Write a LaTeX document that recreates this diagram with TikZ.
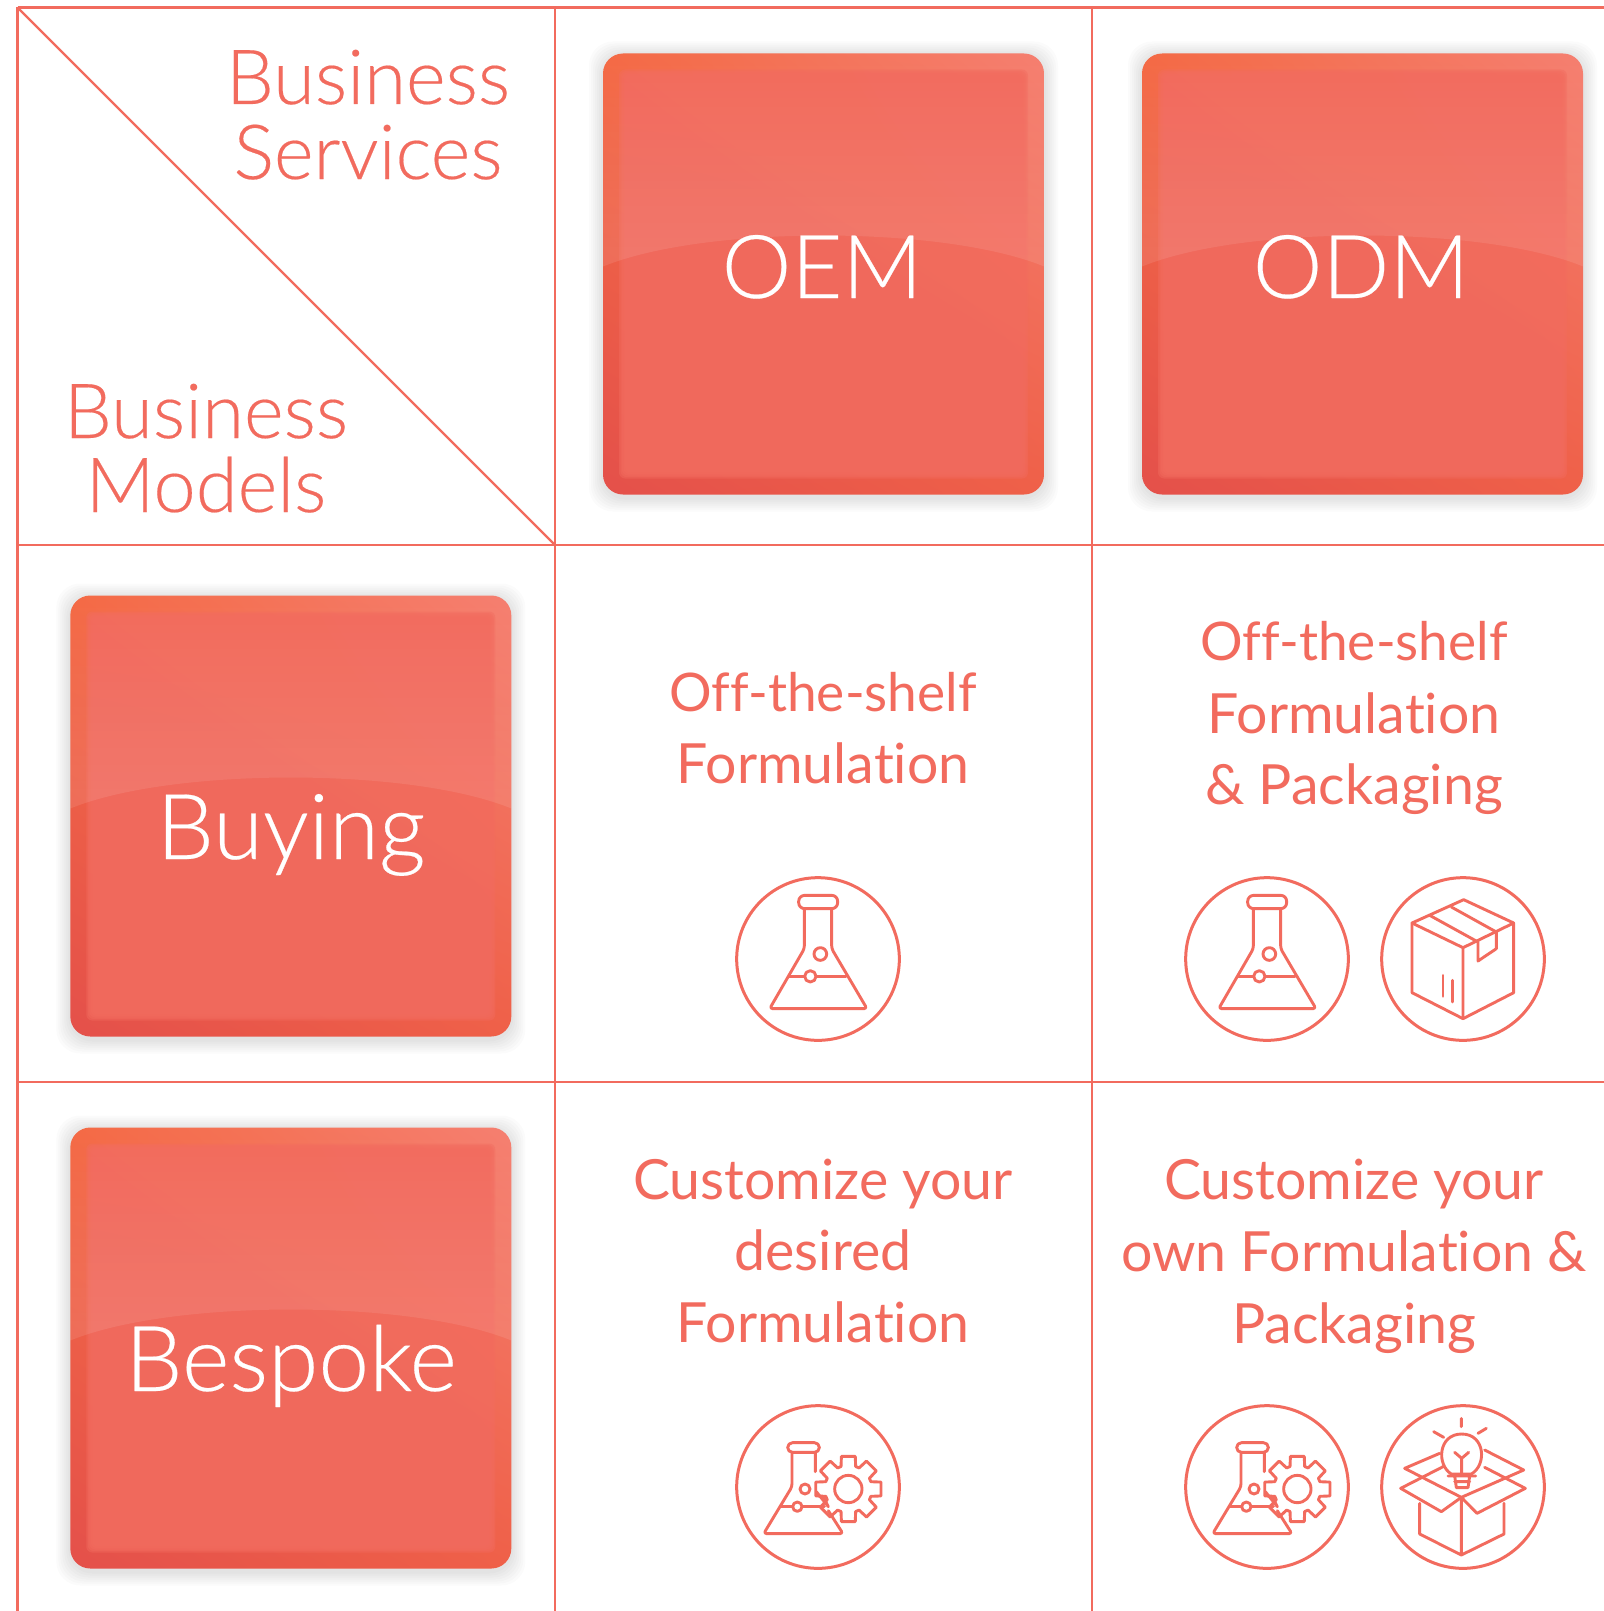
\documentclass[tikz,border=0pt]{standalone}
\usepackage{fontspec}
\setmainfont{Lato}[UprightFont=* Light,Ligatures=NoCommon,FakeBold=0.25]
\newfontfamily\cellfont{Lato}[Ligatures=NoCommon]
\usetikzlibrary{fadings,shadings,calc}
\definecolor{coral}{HTML}{F26B5E}
\definecolor{bevTL}{HTML}{F46A45}
\definecolor{bevTR}{HTML}{F57F70}
\definecolor{bevBL}{HTML}{E4504A}
\definecolor{bevBR}{HTML}{EF6048}
\tikzset{
  gridline/.style={coral,line width=1.45pt},
  iconline/.style={coral,line width=1.45pt,line join=round,line cap=round},
  ringline/.style={coral,line width=1.5pt},
  hlabel/.style={coral,anchor=base,inner sep=0pt,font=\fontsize{38}{38}\selectfont},
  cellabel/.style={coral,anchor=base,inner sep=0pt,font=\cellfont\fontsize{27.7}{27.7}\selectfont},
  shelflabel/.style={coral,anchor=base,inner sep=0pt,font=\cellfont\fontsize{26.6}{26.6}\selectfont},
  boxlabel/.style={white,anchor=base,inner sep=0pt,font=\fontsize{45.5}{45.5}\selectfont},
  capslabel/.style={white,anchor=base,inner sep=0pt,font=\fontsize{44}{44}\selectfont},
  zoomunits/.style={x=0.16667pt,y=-0.16667pt}
}
\newcommand{\glossbox}[2]{%
\begin{scope}[shift={(#1,#2)}]
  \foreach \e in {14,12,10,8,6,4,2}{
    \fill[black,opacity=.014,rounded corners=12pt] (-\e,-\e+2) rectangle (441+\e,441+\e+3);
  }
  \shade[rounded corners=10pt,upper left=bevTL,upper right=bevTR,lower left=bevBL,lower right=bevBR] (0,0) rectangle (441,441);
  \foreach \e in {16,17.5,19,20.5,22}{
    \fill[coral,opacity=.45,rounded corners=3pt] (\e,\e) rectangle (441-\e,441-\e);
  }
  \begin{scope}
    \clip[rounded corners=10pt] (0,0) rectangle (441,441);
    \fill[white,fill opacity=.1,path fading=north] (0,0) -- (441,0) -- (441,213) .. controls (340,171.7) and (101,171.7) .. (0,213) -- cycle;
  \end{scope}
\end{scope}}
\newcommand{\flaskicon}[2]{%
\begin{scope}[shift={(#1,#2)},zoomunits,shift={(-291,-296)}]
  \draw[ringline] (291,296) circle[radius=244];
  \draw[iconline,rounded corners=3pt] (233,105) rectangle (350,145);
  \draw[iconline,rounded corners=1.5pt] (250,145) -- (250,265) -- (146,445) -- (438,445) -- (332,265) -- (332,145);
  \draw[iconline] (205,348) -- (251,348) (285,348) -- (375,348);
  \draw[iconline] (268,348) circle[radius=17] (298,281) circle[radius=19];
\end{scope}}
\newcommand{\boxicon}[2]{%
\begin{scope}[shift={(#1,#2)},zoomunits,shift={(-880,-296)}]
  \draw[ringline] (880,296) circle[radius=244];
  \draw[iconline] (882,118) -- (1032,188) -- (1032,397) -- (880,475) -- (727,397) -- (727,188) -- cycle;
  \draw[iconline] (727,188) -- (880,262) -- (1032,188) (880,262) -- (880,475);
  \draw[iconline] (780,165) -- (925,245) -- (925,302) -- (980,265) -- (980,215) -- (845,140);
  \draw[iconline] (820,345) -- (820,408) (848,360) -- (848,425);
\end{scope}}
\newcommand{\gearflaskicon}[2]{%
\begin{scope}[shift={(#1,#2)},zoomunits,shift={(-291,-291)}]
  \draw[ringline] (291,291) circle[radius=244];
  \draw[iconline,rounded corners=2.4pt] (200,158) rectangle (295,187);
  \draw[iconline,rounded corners=1.5pt] (213,187) -- (213,290) -- (128,431) -- (366,431) -- (322,362);
  \draw[iconline] (283,187) -- (283,245) (286,305) -- (322,350) -- (305,318);
  \draw[iconline] (180,350) -- (215,350) (243,350) -- (310,350);
  \draw[iconline] (229,350) circle[radius=14] (252,297) circle[radius=15];
  \draw[iconline] (382,297) circle[radius=41];
  \draw[iconline] ($(382,297)+(-18:71)$)
    \foreach \a in {0,45,...,315}{
      -- ($(382,297)+(\a-18:71)$)
      -- ($(382,297)+(\a-12:100)$)
      -- ($(382,297)+(\a+12:100)$)
      -- ($(382,297)+(\a+18:71)$)
    } -- cycle;
\end{scope}}
\newcommand{\ideaicon}[2]{%
\begin{scope}[shift={(#1,#2)},zoomunits,shift={(-880,-291)}]
  \draw[ringline] (880,291) circle[radius=244];
  \draw[iconline] (875,322) -- (875,495) -- (750,432) -- (750,340) (875,495) -- (1003,432) -- (1003,340);
  \draw[iconline] (875,322) -- (815,365) -- (693,295) -- (830,225);
  \draw[iconline] (875,322) -- (922,370) -- (1067,295) -- (945,232);
  \draw[iconline] (810,190) -- (705,235) -- (875,322) -- (1062,240) -- (945,180);
  \draw[iconline,fill=white] (845,252) .. controls (800,225) and (805,132) .. (876,132) .. controls (947,132) and (952,225) .. (905,252) -- cycle;
  \fill[white] (838,255) rectangle (915,295);
  \draw[iconline] (835,258) -- (918,258) (855,275) -- (900,275) (860,293) -- (895,293) (855,258) -- (860,293) (900,258) -- (895,293);
  \draw[iconline] (876,250) -- (876,205) (855,187) -- (876,205) (897,187) -- (876,205);
  \draw[iconline] (875,85) -- (875,110) (792,125) -- (822,142) (950,115) -- (925,130);
\end{scope}}
\begin{document}
\begin{tikzpicture}[x=0.5pt,y=-0.5pt]
\useasboundingbox[fill=white] (0,0) rectangle (1604,1611);
% grid
\draw[gridline] (17.5,7.5) -- (1604,7.5) (17.5,545) -- (1604,545) (17.5,1082) -- (1604,1082);
\draw[gridline] (17.5,7.5) -- (17.5,1611) (555,7.5) -- (555,1611) (1092,7.5) -- (1092,1611);
\draw[gridline,line width=1.2pt] (17.5,7.5) -- (555,545);
% header
\node[hlabel] (hbiz) at (368,104) {Business};
\node[hlabel] (hsvc) at (368,179) {Services};
\node[hlabel] (lbiz) at (206,438) {Business};
\node[hlabel] (lmod) at (206,512) {Models};
% glossy boxes
\glossbox{603}{53.5}
\glossbox{1142}{53.5}
\glossbox{70.3}{595.5}
\glossbox{70.3}{1127.5}
\node[capslabel] (oem) at (822,298) {OEM};
\node[capslabel] (odm) at (1361,298) {ODM};
\node[boxlabel] (buying) at (291,859) {Buying};
\node[boxlabel] (bespoke) at (291,1391) {Bespoke};
% cells
\node[shelflabel] (a1) at (823,711) {Off-the-shelf};
\node[cellabel] (a2) at (823,783) {Formulation};
\node[shelflabel] (b1) at (1354,660) {Off-the-shelf};
\node[cellabel] (b2) at (1354,733) {Formulation};
\node[cellabel] (b3) at (1354,804) {\& Packaging};
\node[cellabel] (c1) at (823,1199) {Customize your};
\node[cellabel] (c2) at (823,1270) {desired};
\node[cellabel] (c3) at (823,1342) {Formulation};
\node[cellabel] (d1) at (1354,1199) {Customize your};
\node[cellabel] (d2) at (1354,1271) {own Formulation \&};
\node[cellabel] (d3) at (1354,1343) {Packaging};
% icons
\flaskicon{818}{959}
\flaskicon{1267}{959}
\boxicon{1463}{959}
\gearflaskicon{818}{1487}
\gearflaskicon{1267}{1487}
\ideaicon{1463}{1487}
\end{tikzpicture}
\end{document}
